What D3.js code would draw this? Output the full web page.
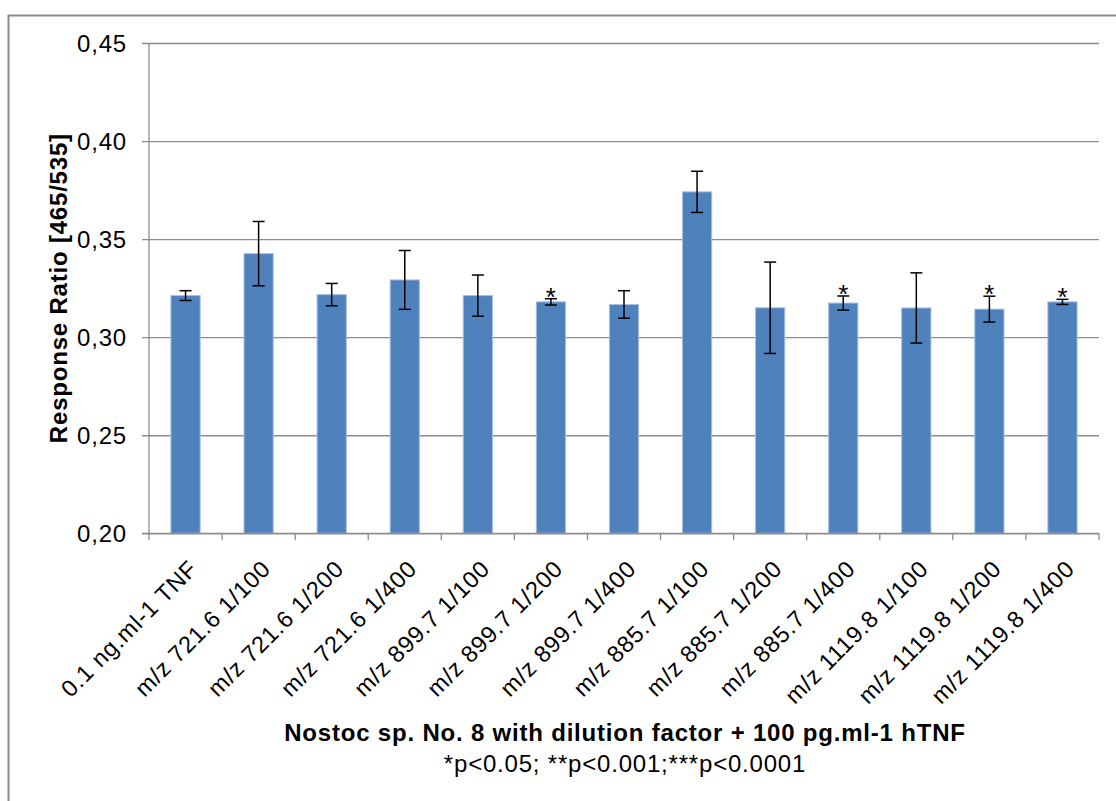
<!DOCTYPE html>
<html>
<head>
<meta charset="utf-8">
<script src="https://cdn.jsdelivr.net/npm/d3@7"></script>
<style>
  html, body { margin: 0; padding: 0; background: #fff; }
  svg { display: block; }
  text { font-family: "Liberation Sans", Arial, sans-serif; fill: #000; }
</style>
</head>
<body>
<svg id="chart" width="1116" height="801"></svg>
<script>
const categories = [
  "0.1 ng.ml-1 TNF",
  "m/z 721.6 1/100",
  "m/z 721.6 1/200",
  "m/z 721.6 1/400",
  "m/z 899.7 1/100",
  "m/z 899.7 1/200",
  "m/z 899.7 1/400",
  "m/z 885.7 1/100",
  "m/z 885.7 1/200",
  "m/z 885.7 1/400",
  "m/z 1119.8 1/100",
  "m/z 1119.8 1/200",
  "m/z 1119.8 1/400"
];
const values = [0.3212, 0.3426, 0.3217, 0.3292, 0.3212, 0.3180, 0.3167, 0.3741, 0.3150, 0.3174, 0.3149, 0.3143, 0.3180];
const errors = [0.0025, 0.0164, 0.0057, 0.0150, 0.0105, 0.0016, 0.0070, 0.0105, 0.0233, 0.0036, 0.0179, 0.0066, 0.0013];
const significance = ["", "", "", "", "", "*", "", "", "", "*", "", "*", "*"];
const yTicks = [0.20, 0.25, 0.30, 0.35, 0.40, 0.45];
const yTitle = "Response Ratio [465/535]";
const xTitle = "Nostoc sp. No. 8 with dilution factor + 100 pg.ml-1 hTNF";
const xSubtitle = "*p<0.05; **p<0.001;***p<0.0001";

const svg = d3.select("#chart");
const gridColor = "#8c8c8c";
const barColor = "#4F81BD";

// outer chart border
svg.append("rect")
  .attr("x", 8.5).attr("y", 15.5)
  .attr("width", 1200).attr("height", 900)
  .attr("fill", "none").attr("stroke", "#8a8a8a").attr("stroke-width", 2);

const plot = { left: 149, right: 1099, top: 43, bottom: 533.3 };

const x = d3.scaleBand()
  .domain(categories)
  .range([plot.left, plot.right])
  .paddingInner(0.6)
  .paddingOuter(0.3);

const y = d3.scaleLinear()
  .domain([0.20, 0.45])
  .range([plot.bottom, plot.top]);

const locale = d3.formatLocale({ decimal: ",", thousands: ".", grouping: [3], currency: ["", ""] });
const fmt = locale.format(".2f");

// y axis with gridlines
const yAxis = d3.axisLeft(y)
  .tickValues(yTicks)
  .tickSize(-(plot.right - plot.left))
  .tickSizeOuter(0)
  .tickPadding(15)
  .tickFormat(fmt);

const gy = svg.append("g")
  .attr("transform", `translate(${plot.left},0)`)
  .call(yAxis);
gy.select(".domain").remove();
gy.selectAll(".tick line")
  .attr("stroke", gridColor).attr("stroke-width", 1.3)
  .attr("x1", -7);
gy.selectAll(".tick text")
  .attr("x", -22)
  .attr("dy", "0.35em")
  .style("font-size", "24px")
  .style("letter-spacing", "0.8px")
  .style("font-family", "'Liberation Sans', Arial, sans-serif")
  .attr("fill", "#000");

// y axis line
svg.append("line")
  .attr("x1", plot.left).attr("x2", plot.left)
  .attr("y1", plot.top).attr("y2", plot.bottom)
  .attr("stroke", gridColor).attr("stroke-width", 1.3);

// bars
svg.append("g").selectAll("rect")
  .data(categories)
  .join("rect")
  .attr("x", d => x(d))
  .attr("width", x.bandwidth())
  .attr("y", (d, i) => y(values[i]))
  .attr("height", (d, i) => y(0.20) - y(values[i]))
  .attr("fill", barColor)
  .attr("stroke", "#a7bfdf")
  .attr("stroke-width", 1);

// x axis
const step = x.step();
const boundaries = d3.range(categories.length + 1).map(i => plot.left + i * step);
svg.append("line")
  .attr("x1", plot.left - 7).attr("x2", plot.right)
  .attr("y1", plot.bottom).attr("y2", plot.bottom)
  .attr("stroke", gridColor).attr("stroke-width", 1.3);
svg.append("g").selectAll("line")
  .data(boundaries)
  .join("line")
  .attr("x1", d => d).attr("x2", d => d)
  .attr("y1", plot.bottom).attr("y2", plot.bottom + 7)
  .attr("stroke", gridColor).attr("stroke-width", 1.3);

// error bars
const cap = 6;
const eg = svg.append("g").attr("stroke", "#000").attr("stroke-width", 1.5);
categories.forEach((c, i) => {
  const cx = x(c) + x.bandwidth() / 2;
  const yt = y(values[i] + errors[i]);
  const yb = y(values[i] - errors[i]);
  eg.append("line").attr("x1", cx).attr("x2", cx).attr("y1", yt).attr("y2", yb);
  eg.append("line").attr("x1", cx - cap).attr("x2", cx + cap).attr("y1", yt).attr("y2", yt);
  eg.append("line").attr("x1", cx - cap).attr("x2", cx + cap).attr("y1", yb).attr("y2", yb);
});

// significance stars
svg.append("g").selectAll("text")
  .data(categories)
  .join("text")
  .attr("x", d => x(d) + x.bandwidth() / 2)
  .attr("y", (d, i) => y(values[i] + errors[i]) + 7)
  .attr("text-anchor", "middle")
  .style("font-size", "26px")
  .text((d, i) => significance[i]);

// x tick labels (rotated)
svg.append("g").selectAll("text")
  .data(categories)
  .join("text")
  .attr("transform", d => `translate(${x(d) + x.bandwidth() / 2 + 13.5},${plot.bottom + 37}) rotate(-45)`)
  .attr("text-anchor", "end")
  .style("font-size", "23.5px")
  .style("letter-spacing", "0.8px")
  .text(d => d);

// y title
svg.append("text")
  .attr("transform", `translate(67,${(plot.top + plot.bottom) / 2}) rotate(-90)`)
  .attr("text-anchor", "middle")
  .style("font-size", "24px")
  .style("font-weight", "bold")
  .style("letter-spacing", "0.8px")
  .text(yTitle);

// x title and subtitle
svg.append("text")
  .attr("x", (plot.left + plot.right) / 2 + 1)
  .attr("y", 741)
  .attr("text-anchor", "middle")
  .style("font-size", "24px")
  .style("font-weight", "bold")
  .style("letter-spacing", "0.8px")
  .text(xTitle);

svg.append("text")
  .attr("x", (plot.left + plot.right) / 2 + 1)
  .attr("y", 772)
  .attr("text-anchor", "middle")
  .style("font-size", "24px")
  .style("letter-spacing", "0.8px")
  .text(xSubtitle);
</script>
</body>
</html>
